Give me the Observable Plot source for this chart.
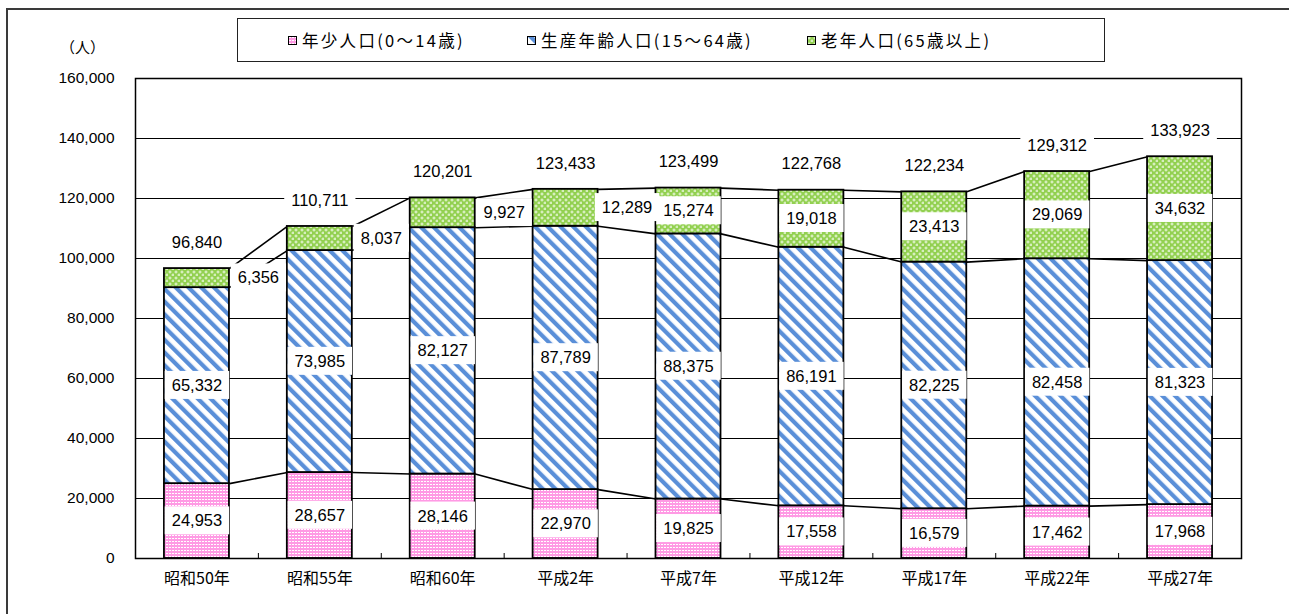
<!DOCTYPE html>
<html>
<head>
<meta charset="utf-8">
<script src="https://cdn.jsdelivr.net/npm/d3@7"></script>
<script src="https://cdn.jsdelivr.net/npm/@observablehq/plot@0.6"></script>
<style>
  html, body { margin: 0; padding: 0; background: #fff; }
  #wrap { position: relative; width: 1289px; height: 614px; overflow: hidden; font-family: "Noto Sans CJK JP", sans-serif; }
  #frame { position: absolute; left: 6px; top: 8px; width: 1300px; height: 700px; border-left: 2px solid #3a3a3a; border-top: 2px solid #3a3a3a; }
  #legend { position: absolute; left: 237px; top: 18px; width: 866px; height: 42px; border: 1.5px solid #222; background: #fff; }
  .item { position: absolute; top: 0; height: 42px; display: flex; align-items: center; font-size: 16.5px; letter-spacing: 2.3px; color: #000; white-space: nowrap; }
  .item svg { margin-right: 5px; }
  #unit { position: absolute; left: 60px; top: 36px; font-size: 15px; color: #000; }
  #chart { position: absolute; left: 0; top: 0; }
</style>
</head>
<body>
<div id="wrap">
  <div id="chart"></div>
  <div id="frame"></div>
  <div id="legend"></div>
  <div id="unit">（人）</div>
</div>
<script>
// ---- data ----
const categories = ["昭和50年","昭和55年","昭和60年","平成2年","平成7年","平成12年","平成17年","平成22年","平成27年"];
const young   = [24953, 28657, 28146, 22970, 19825, 17558, 16579, 17462, 17968];
const working = [65332, 73985, 82127, 87789, 88375, 86191, 82225, 82458, 81323];
const elderly = [6356, 8037, 9927, 12289, 15274, 19018, 23413, 29069, 34632];
const totals  = [96840, 110711, 120201, 123433, 123499, 122768, 122234, 129312, 133923];
const seriesNames = ["年少人口(0～14歳)", "生産年齢人口(15～64歳)", "老年人口(65歳以上)"];
const yTicks = [0, 20000, 40000, 60000, 80000, 100000, 120000, 140000, 160000];

// ---- derived tables ----
const patternIds = ["pYoung", "pWorking", "pElderly"];
const HW = 0.2645; // half bar width in band units
const series = [young, working, elderly];
const segs = [];
const levels = [[], [], []];
categories.forEach((c, i) => {
  let base = 0;
  series.forEach((arr, s) => {
    const v = arr[i];
    segs.push({i, s, y1: base, y2: base + v, mid: base + v / 2, value: v});
    base += v;
    levels[s].push(base);
  });
});
const links = [];
levels.forEach(lv => {
  for (let i = 0; i < lv.length - 1; i++) links.push({x1: i + HW, y1: lv[i], x2: i + 1 - HW, y2: lv[i + 1]});
});
const inside = segs.filter(d => d.s < 2 || d.i >= 4);
const outside = segs.filter(d => d.s === 2 && d.i < 4);
const tops = categories.map((c, i) => ({i, y: levels[2][i], label: totals[i]}));
const fmt = d3.format(",");

const svg = Plot.plot({
  width: 1289,
  height: 614,
  marginTop: 78,
  marginBottom: 56,
  marginLeft: 135,
  marginRight: 48,
  x: {domain: [-0.5, categories.length - 0.5]},
  y: {domain: [0, 160000]},
  style: {fontFamily: "'Liberation Sans', 'Noto Sans CJK JP', sans-serif", fontSize: "16px", background: "transparent", color: "#000"},
  marks: [
    Plot.ruleY(yTicks.slice(1, -1), {stroke: "#000", strokeWidth: 1}),
    Plot.link(links, {x1: "x1", y1: "y1", x2: "x2", y2: "y2", stroke: "#000", strokeWidth: 1.6}),
    Plot.rect(segs, {x1: d => d.i - HW, x2: d => d.i + HW, y1: "y1", y2: "y2", fill: d => `url(#${patternIds[d.s]})`, stroke: "#000", strokeWidth: 1.8}),
    Plot.ruleX(d3.range(categories.length - 1).map(i => i + 0.5), {y1: 0, y2: 0, insetTop: -5, stroke: "#000"}),
    Plot.frame({stroke: "#000", strokeWidth: 1.5}),
    Plot.text(inside, {x: "i", y: "mid", text: d => fmt(d.value), fill: "#000", fontSize: 16.5}),
    Plot.text(outside, {x: d => d.i + 0.5, y: "mid", text: d => fmt(d.value), fill: "#000", fontSize: 16.5}),
    Plot.text(tops, {x: "i", y: "y", text: d => fmt(d.label), dy: -26, fill: "#000", fontSize: 16.5}),
    Plot.axisY({ticks: yTicks, tickSize: 0, tickPadding: 21, tickFormat: fmt, fontSize: 15.5, label: null}),
    Plot.axisX({ticks: d3.range(categories.length), tickSize: 0, tickPadding: 14, tickFormat: i => categories[i], fontSize: 16, fontFamily: "'Noto Sans CJK JP', sans-serif", label: null})
  ]
});

// pattern definitions
const defs = d3.select(svg).insert("defs", ":first-child");
const py = defs.append("pattern").attr("id", "pYoung").attr("patternUnits", "userSpaceOnUse").attr("width", 3).attr("height", 3);
py.append("rect").attr("width", 3).attr("height", 3).attr("fill", "#ff9ae4");
py.append("rect").attr("x", 1).attr("y", 1).attr("width", 2).attr("height", 1).attr("fill", "#fff");
const pw = defs.append("pattern").attr("id", "pWorking").attr("patternUnits", "userSpaceOnUse").attr("width", 9).attr("height", 9).attr("patternTransform", "rotate(-45)");
pw.append("rect").attr("width", 9).attr("height", 9).attr("fill", "#fff");
pw.append("rect").attr("width", 4.2).attr("height", 9).attr("fill", "#5a8fd8");
const pe = defs.append("pattern").attr("id", "pElderly").attr("patternUnits", "userSpaceOnUse").attr("width", 6).attr("height", 6);
pe.append("rect").attr("width", 6).attr("height", 6).attr("fill", "#92d050");
pe.append("path").attr("d", "M1.5,0.5h1v1h1v1h-1v1h-1v-1h-1v-1h1z M4.5,3.5h1v1h1v1h-1v1h-1v-1h-1v-1h1z").attr("fill", "#eef8e2");

document.getElementById("chart").append(svg);

// white label boxes behind data labels
svg.querySelectorAll('g[aria-label="text"]').forEach(g => {
  Array.from(g.querySelectorAll("text")).forEach(t => {
    const b = t.getBBox();
    const r = document.createElementNS("http://www.w3.org/2000/svg", "rect");
    r.setAttribute("x", b.x - 7);
    r.setAttribute("y", b.y - 5);
    r.setAttribute("width", b.width + 14);
    r.setAttribute("height", b.height + 10);
    r.setAttribute("fill", "#fff");
    r.setAttribute("stroke", "none");
    const tr = t.getAttribute("transform");
    if (tr) r.setAttribute("transform", tr);
    t.parentNode.insertBefore(r, t);
  });
});

// legend
const legendX = [50, 289, 569];
const legend = d3.select("#legend");
seriesNames.forEach((name, s) => {
  const it = legend.append("div").attr("class", "item").style("left", legendX[s] + "px");
  const sw = it.append("svg").attr("width", 9).attr("height", 9);
  sw.append("rect").attr("x", 0.5).attr("y", 0.5).attr("width", 8).attr("height", 8)
    .attr("fill", `url(#${patternIds[s]})`).attr("stroke", "#000").attr("stroke-width", 1);
  it.append("span").text(name);
});
</script>
</body>
</html>
